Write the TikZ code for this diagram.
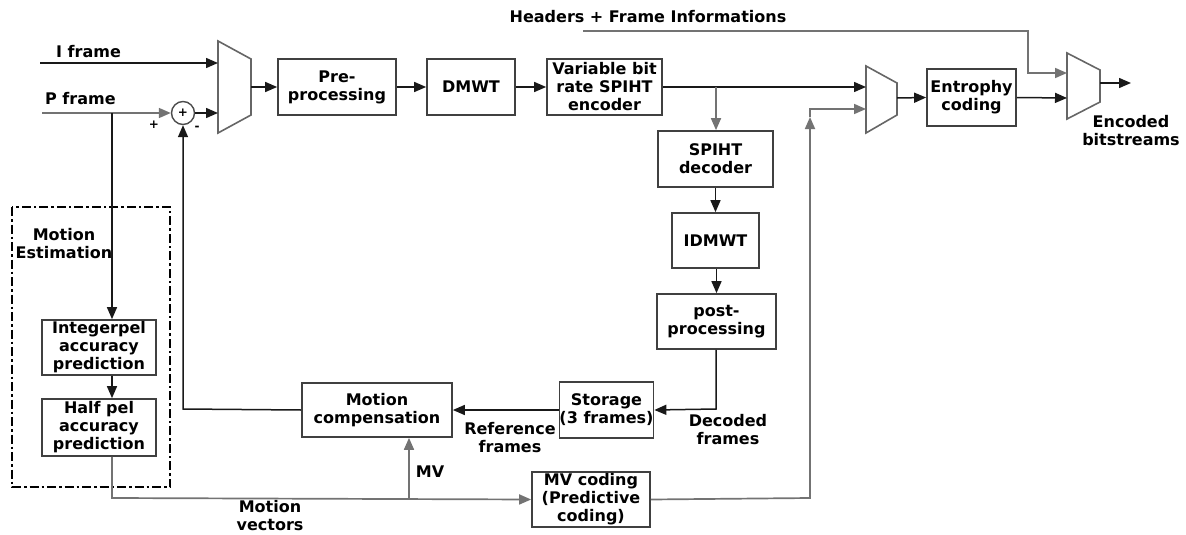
\documentclass[tikz,border=0pt]{standalone}
\usepackage{fontspec}
\setmainfont{DejaVu Sans}
\usetikzlibrary{arrows.meta,calc}
\tikzset{
  blk/.style={draw=black!75,line width=1.7pt,fill=white,inner sep=0pt,align=center,font=\fontsize{16}{18}\selectfont\bfseries},
  lbl/.style={inner sep=0pt,align=center,font=\fontsize{16}{18}\selectfont\bfseries},
  sml/.style={inner sep=0pt,font=\fontsize{12}{12}\selectfont\bfseries},
  wire/.style={line width=1.5pt,draw=black!90},
  gwire/.style={line width=1.7pt,draw=black!55},
  arr/.style={-{Triangle[length=12pt,width=10pt]}},
  muxs/.style={draw=black!60,line width=1.6pt,fill=white},
  dashbox/.style={draw=black,line width=2.4pt,dash pattern=on 9pt off 3pt on 2.5pt off 3pt}
}
\begin{document}
\begin{tikzpicture}[x=1pt,y=-1pt]
\useasboundingbox (0,0) rectangle (1186,535);
% multiplexers
\draw[muxs] (218,41) -- (251,59) -- (251,115) -- (218,133) -- cycle;
\draw[muxs] (866,66) -- (897,83) -- (897,115) -- (866,133) -- cycle;
\draw[muxs] (1067,53) -- (1100,70) -- (1100,102) -- (1067,119) -- cycle;
\coordinate (m1a) at (218,63); \coordinate (m1b) at (218,113); \coordinate (m1o) at (251,87);
\coordinate (m2a) at (866,87); \coordinate (m2b) at (866,109); \coordinate (m2o) at (897,98);
\coordinate (m3a) at (1067,73); \coordinate (m3b) at (1067,98); \coordinate (m3o) at (1100,83);
% blocks
\node[blk,minimum width=118pt,minimum height=56pt] (pre) at (337,87) {Pre-\\processing};
\node[blk,minimum width=88pt,minimum height=56pt] (dmwt) at (471,87) {DMWT};
\node[blk,minimum width=115pt,minimum height=56pt] (vbr) at (604.5,87) {Variable bit\\rate SPIHT\\encoder};
\node[blk,minimum width=115pt,minimum height=56pt] (spd) at (715.5,159) {SPIHT\\decoder};
\node[blk,minimum width=87pt,minimum height=55pt] (idmwt) at (715.5,240.5) {IDMWT};
\node[blk,minimum width=119pt,minimum height=55pt] (post) at (716.5,321.5) {post-\\processing};
\node[blk,minimum width=87pt,minimum height=56pt] (stor) at (606.5,410) {Storage\\(3 frames)};
\node[blk,minimum width=150pt,minimum height=54pt] (mc) at (377,410) {Motion\\compensation};
\node[blk,minimum width=118pt,minimum height=55pt] (mvc) at (591,499.5) {MV coding\\(Predictive\\coding)};
\node[blk,minimum width=114pt,minimum height=55pt] (intp) at (99,347.5) {Integerpel\\accuracy\\prediction};
\node[blk,minimum width=114pt,minimum height=57pt] (half) at (99,427.5) {Half pel\\accuracy\\prediction};
\node[blk,minimum width=89pt,minimum height=57pt] (ent) at (971.5,97.5) {Entrophy\\coding};
\node[draw=black!70,line width=1.4pt,circle,minimum size=23pt,inner sep=0pt,fill=white,font=\fontsize{12}{12}\selectfont\bfseries] (sum) at (183,113) {+};
% dashed motion estimation box
\draw[dashbox] (12,207) rectangle (170,487);
% labels
\node[lbl,anchor=west] (lif) at (56,52) {I frame};
\node[lbl,anchor=west] (lpf) at (45,99) {P frame};
\node[sml] (lplus) at (154,125) {+};
\node[sml] (lminus) at (197,128) {-};
\node[lbl] (lhdr) at (648,17) {Headers + Frame Informations};
\node[lbl] (lme) at (64,244) {Motion\\Estimation};
\node[lbl] (lmv) at (270,516) {Motion\\vectors};
\node[lbl] (lmvs) at (430,472) {MV};
\node[lbl] (lref) at (510,438) {Reference\\frames};
\node[lbl] (ldec) at (728,430) {Decoded\\frames};
\node[lbl] (lenc) at (1131,131) {Encoded\\bitstreams};
% connectors
\coordinate (ifs) at (40,63);
\coordinate (pfs) at (42,113);
\coordinate (pbr) at (112,113);
\draw[wire,arr] (ifs) -- (m1a);
\draw[gwire,arr] (pfs) -- (sum.west);
\draw[wire,arr] (sum.east) -- (m1b);
\draw[wire,arr] (m1o) -- (pre.west);
\draw[wire,arr] (pre) -- (dmwt);
\draw[wire,arr] (dmwt) -- (vbr);
\draw[wire,arr] (vbr.east) -- (m2a);
\coordinate (vbrb) at (716,87);
\draw[gwire,arr] (vbrb) -- (vbrb |- spd.north);
\draw[wire,arr] (spd) -- (idmwt);
\draw[wire,arr] (idmwt.south -| post.north) -- (post.north);
\coordinate (pc) at (716,409);
\draw[wire,arr] (pc |- post.south) -- (pc) -- (stor.east);
\draw[wire,arr] (stor.west) -- (mc.east);
\draw[wire,arr] (pbr) -- (pbr |- intp.north);
\coordinate (ih) at (112,375);
\draw[wire,arr] (ih |- intp.south) -- (ih |- half.north);
\coordinate (hc) at (112,498);
\coordinate (mvb) at (409,498);
\draw[gwire,arr] (hc |- half.south) -- (hc) -- (mvc.west);
\draw[gwire,arr] (mvb) -- (mvb |- mc.south);
\coordinate (mcc) at (183,409);
\draw[wire,arr] (mc.west) -- (mcc) -- (sum.south);
\coordinate (mvcc) at (810,498);
\coordinate (mvup) at (810,117);
\coordinate (mvtop) at (810,109);
\draw[gwire,arr] (mvc.east) -- (mvcc) -- (mvup);
\draw[gwire,arr] (mvup) -- (mvtop) -- (m2b);
\draw[wire,arr] (m2o) -- (ent.west);
\draw[wire,arr] (ent.east) -- (m3b);
\coordinate (hs) at (583,31);
\coordinate (hc1) at (1028,31);
\coordinate (hc2) at (1028,73);
\draw[gwire,arr] (hs) -- (hc1) -- (hc2) -- (m3a);
\coordinate (outp) at (1131,83);
\draw[wire,arr] (m3o) -- (outp);
\end{tikzpicture}
\end{document}
